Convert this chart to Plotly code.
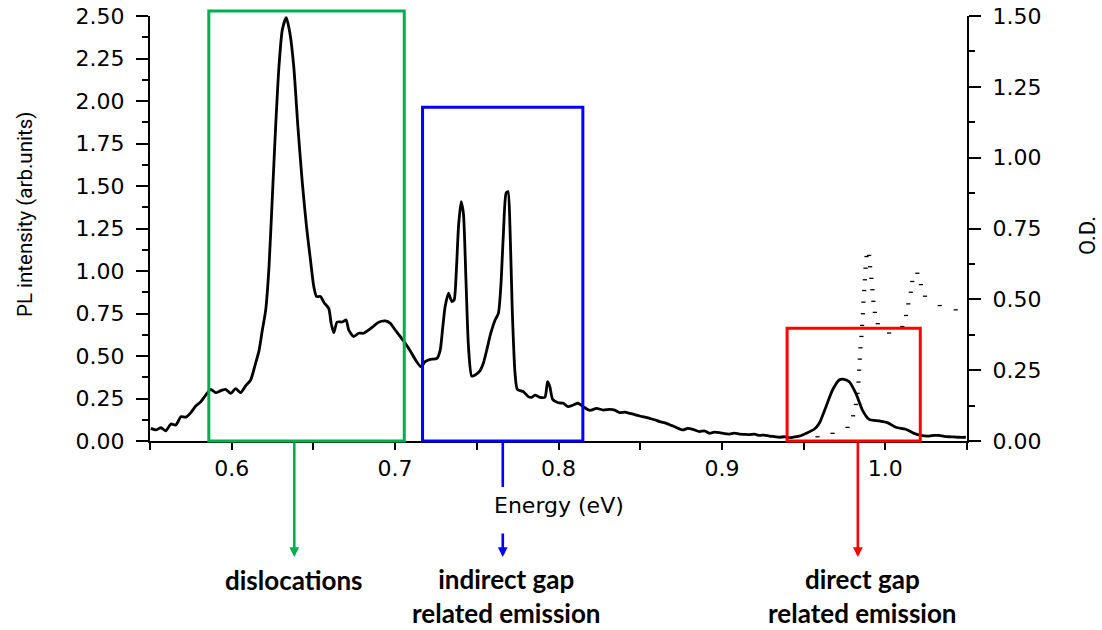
import plotly.graph_objects as go

# Photoluminescence spectrum (left axis)
pl_energy = [
    0.5505, 0.5536, 0.5567, 0.5597, 0.5628, 0.5658, 0.5689, 0.5719, 0.5750, 0.5780,
    0.5811, 0.5841, 0.5872, 0.5902, 0.5933, 0.5963, 0.5994, 0.6024, 0.6055, 0.6085,
    0.6116, 0.6147, 0.6167, 0.6187, 0.6208, 0.6228, 0.6248, 0.6269, 0.6289, 0.6310,
    0.6334, 0.6356, 0.6380, 0.6405, 0.6432, 0.6458, 0.6482, 0.6502, 0.6519, 0.6543,
    0.6568, 0.6594, 0.6609, 0.6625, 0.6645, 0.6676, 0.6700, 0.6716, 0.6747, 0.6777,
    0.6808, 0.6838, 0.6869, 0.6899, 0.6940, 0.6971, 0.7001, 0.7032, 0.7062, 0.7093,
    0.7123, 0.7158, 0.7184, 0.7215, 0.7256, 0.7276, 0.7292, 0.7306, 0.7327, 0.7347,
    0.7361, 0.7374, 0.7388, 0.7404, 0.7418, 0.7433, 0.7449, 0.7469, 0.7490, 0.7520,
    0.7540, 0.7561, 0.7585, 0.7612, 0.7632, 0.7647, 0.7662, 0.7679, 0.7691, 0.7703,
    0.7717, 0.7734, 0.7748, 0.7785, 0.7815, 0.7836, 0.7856, 0.7886, 0.7917, 0.7933,
    0.7947, 0.7964, 0.7998, 0.8029, 0.8059, 0.8090, 0.8120, 0.8151, 0.8192, 0.8233,
    0.8273, 0.8314, 0.8344, 0.8375, 0.8405, 0.8436, 0.8467, 0.8497, 0.8528, 0.8558,
    0.8589, 0.8619, 0.8660, 0.8690, 0.8711, 0.8761, 0.8790, 0.8822, 0.8863, 0.8893,
    0.8924, 0.8955, 0.8985, 0.9016, 0.9046, 0.9077, 0.9107, 0.9138, 0.9168, 0.9199,
    0.9230, 0.9260, 0.9291, 0.9322, 0.9352, 0.9383, 0.9413, 0.9444, 0.9474, 0.9524,
    0.9565, 0.9596, 0.9637, 0.9677, 0.9718, 0.9748, 0.9779, 0.9820, 0.9860, 0.9901,
    0.9962, 1.0013, 1.0064, 1.0125, 1.0176, 1.0217, 1.0267, 1.0298, 1.0328, 1.0360,
    1.0390, 1.0420, 1.0451, 1.0493,
]
pl_intensity = [
    0.074, 0.065, 0.078, 0.060, 0.100, 0.094, 0.143, 0.140, 0.167, 0.206,
    0.231, 0.270, 0.304, 0.284, 0.296, 0.304, 0.280, 0.308, 0.284, 0.324,
    0.359, 0.460, 0.530, 0.650, 0.770, 1.020, 1.420, 1.850, 2.200, 2.420,
    2.490, 2.400, 2.200, 1.850, 1.520, 1.260, 1.065, 0.910, 0.850, 0.850,
    0.810, 0.780, 0.690, 0.637, 0.700, 0.700, 0.712, 0.653, 0.614, 0.634,
    0.634, 0.653, 0.676, 0.698, 0.706, 0.692, 0.653, 0.614, 0.575, 0.530,
    0.480, 0.437, 0.467, 0.480, 0.486, 0.535, 0.672, 0.790, 0.869, 0.820,
    0.829, 0.986, 1.260, 1.408, 1.339, 0.967, 0.555, 0.382, 0.388, 0.414,
    0.457, 0.535, 0.633, 0.712, 0.751, 0.908, 1.202, 1.457, 1.467, 1.260,
    0.771, 0.398, 0.304, 0.290, 0.261, 0.257, 0.270, 0.257, 0.257, 0.349,
    0.320, 0.245, 0.225, 0.222, 0.202, 0.212, 0.222, 0.202, 0.180, 0.192,
    0.182, 0.186, 0.182, 0.167, 0.170, 0.163, 0.155, 0.147, 0.141, 0.133,
    0.125, 0.114, 0.104, 0.092, 0.084, 0.065, 0.074, 0.069, 0.055, 0.060,
    0.045, 0.052, 0.049, 0.043, 0.041, 0.046, 0.041, 0.039, 0.037, 0.040,
    0.033, 0.035, 0.029, 0.026, 0.022, 0.025, 0.020, 0.024, 0.029, 0.049,
    0.069, 0.104, 0.202, 0.300, 0.359, 0.363, 0.349, 0.280, 0.182, 0.127,
    0.118, 0.108, 0.081, 0.069, 0.045, 0.033, 0.029, 0.033, 0.033, 0.027,
    0.025, 0.024, 0.022, 0.022,
]

# Optical density (right axis)
od_energy = [
    0.9585, 0.9677, 0.9769, 0.9803, 0.9820, 0.9830, 0.9836, 0.9840, 0.9844, 0.9848,
    0.9854, 0.9858, 0.9863, 0.9866, 0.9871, 0.9875, 0.9879, 0.9885, 0.9901, 0.9907,
    0.9915, 0.9921, 0.9927, 0.9936, 0.9954, 1.0023, 1.0104, 1.0127, 1.0141, 1.0156,
    1.0165, 1.0196, 1.0218, 1.0243, 1.0333, 1.0431,
]
od_value = [
    0.015, 0.027, 0.048, 0.089, 0.129, 0.168, 0.208, 0.250, 0.289, 0.329,
    0.369, 0.408, 0.449, 0.490, 0.531, 0.569, 0.610, 0.651, 0.655, 0.615,
    0.574, 0.534, 0.493, 0.454, 0.414, 0.381, 0.404, 0.443, 0.484, 0.525,
    0.563, 0.592, 0.552, 0.511, 0.478, 0.463,
]

# Emission regions: energy span, box height (PL units), arrow position, caption
region_lo = [0.586, 0.7168, 0.9399]
region_hi = [0.7056, 0.8149, 1.0214]
region_top = [2.53, 1.963, 0.663]
region_arrow = [0.6383, 0.7659, 0.9832]
region_caption = ["dislocations", "indirect gap<br>related emission", "direct gap<br>related emission"]
region_color = ["#00B050", "#0000FF", "#FF0000"]

x_ticks = [0.6, 0.7, 0.8, 0.9, 1.0]

W, H = 1102, 630
ML, MR, MT, MB = 150, 135, 16, 189
plot_w = W - ML - MR
plot_h = H - MT - MB
y_bottom_px = H - MB


def paper_y(py):
    return (y_bottom_px - py) / plot_h


def paper_x(px):
    return (px - ML) / plot_w


fig = go.Figure()
fig.add_trace(go.Scatter(
    x=pl_energy, y=pl_intensity, mode="lines",
    line=dict(color="black", width=2.8, shape="spline", smoothing=0.6),
    showlegend=False, yaxis="y",
))
fig.add_trace(go.Scatter(
    x=od_energy, y=od_value, mode="markers",
    marker=dict(symbol="line-ew", size=3, line=dict(color="black", width=1.3)),
    showlegend=False, yaxis="y2",
))

tick_font = dict(family="DejaVu Sans, Verdana, sans-serif", size=22, color="black")
axis_common = dict(
    showgrid=False, zeroline=False, showline=True, linecolor="black", linewidth=2,
    ticks="outside", tickcolor="black", tickwidth=2, tickfont=tick_font,
    automargin=False,
)

shapes = []
annotations = []
for lo, hi, top, col in zip(region_lo, region_hi, region_top, region_color):
    shapes.append(dict(
        type="rect", xref="x", yref="paper", x0=lo, x1=hi, y0=0, y1=top / 2.5,
        line=dict(color=col, width=3), fillcolor="rgba(0,0,0,0)", layer="above",
    ))

# green and red arrows run straight down from their boxes
for i in (0, 2):
    annotations.append(dict(
        xref="x", yref="paper", x=region_arrow[i], y=paper_y(557),
        ax=0, ay=-116, axref="pixel", ayref="pixel", text="", showarrow=True,
        arrowhead=2, arrowsize=0.75, arrowwidth=2.6, arrowcolor=region_color[i],
        standoff=0, startstandoff=0,
    ))
# blue arrow is interrupted by the axis title
shapes.append(dict(
    type="line", xref="x", yref="paper", x0=region_arrow[1], x1=region_arrow[1],
    y0=0, y1=paper_y(487), line=dict(color=region_color[1], width=2.6),
))
annotations.append(dict(
    xref="x", yref="paper", x=region_arrow[1], y=paper_y(557),
    ax=0, ay=-25, axref="pixel", ayref="pixel", text="", showarrow=True,
    arrowhead=2, arrowsize=0.75, arrowwidth=2.6, arrowcolor=region_color[1],
    standoff=0, startstandoff=0,
))

caption_font = dict(family="Lato, Open Sans, sans-serif", size=26, color="black", weight="bold")
caption_y = [paper_y(580), paper_y(596), paper_y(596)]
caption_shift = [0, 4, 5]
for xa, cap, cy, sh in zip(region_arrow, region_caption, caption_y, caption_shift):
    annotations.append(dict(
        xref="x", yref="paper", x=xa, y=cy, xshift=sh, text=cap, showarrow=False,
        xanchor="center", yanchor="middle", font=caption_font, align="center",
    ))

title_font = dict(family="Liberation Sans Narrow, Roboto, sans-serif", size=20.5, color="black")
annotations.append(dict(
    xref="paper", yref="paper", x=paper_x(25), y=paper_y(215), text="PL intensity (arb.units)",
    textangle=-90, showarrow=False, xanchor="center", yanchor="middle", font=title_font,
))
annotations.append(dict(
    xref="paper", yref="paper", x=paper_x(1088), y=paper_y(236), text="O.D.",
    textangle=-90, showarrow=False, xanchor="center", yanchor="middle",
    font=dict(family="Liberation Sans Narrow, Roboto, sans-serif", size=22, color="black"),
))
annotations.append(dict(
    xref="paper", yref="paper", x=paper_x(559), y=paper_y(506), text="Energy (eV)",
    showarrow=False, xanchor="center", yanchor="middle",
    font=dict(family="DejaVu Sans, Verdana, sans-serif", size=22, color="black"),
))

fig.update_layout(
    width=W, height=H,
    margin=dict(l=ML, r=MR, t=MT, b=MB, pad=0, autoexpand=False),
    paper_bgcolor="white", plot_bgcolor="white",
    xaxis=dict(
        **axis_common, range=[0.55, 1.05], tickvals=x_ticks, tickformat=".1f",
        ticklen=7, ticklabelstandoff=0,
        minor=dict(tick0=0.55, dtick=0.1, ticks="outside", ticklen=7, tickwidth=2, tickcolor="black"),
    ),
    yaxis=dict(
        **axis_common, range=[0, 2.5], tick0=0, dtick=0.25, tickformat=".2f",
        ticklen=12, ticklabelstandoff=7,
        minor=dict(dtick=0.125, ticks="outside", ticklen=6, tickwidth=2, tickcolor="black"),
    ),
    yaxis2=dict(
        **axis_common, range=[0, 1.5], tick0=0, dtick=0.25, tickformat=".2f",
        overlaying="y", side="right", anchor="x",
        ticklen=12, ticklabelstandoff=7,
        minor=dict(dtick=0.125, ticks="outside", ticklen=6, tickwidth=2, tickcolor="black"),
    ),
    shapes=shapes,
    annotations=annotations,
)

fig.write_html("out.html")
